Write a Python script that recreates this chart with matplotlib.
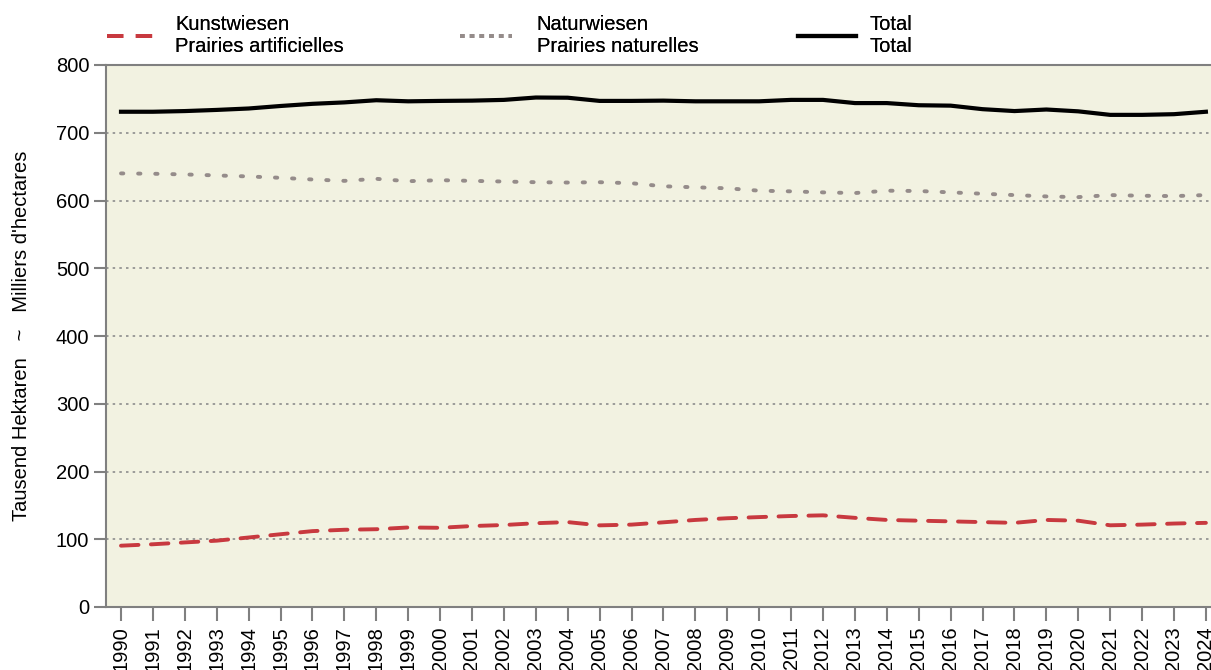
import matplotlib.pyplot as plt
from matplotlib.lines import Line2D

plt.rcParams['font.family'] = ['Liberation Sans', 'DejaVu Sans']

# Jahre / années
jahre = list(range(1990, 2025))

# Kunstwiesen (Tausend ha)
kunstwiesen = [90.5, 92.6, 95.3, 97.9, 102.6, 107.4, 112.0, 114.0, 114.8, 117.4,
               116.9, 119.5, 121.0, 123.7, 125.3, 120.5, 121.6, 125.0, 128.5, 131.0,
               132.7, 134.3, 135.3, 131.6, 128.5, 127.4, 126.4, 125.3, 124.2, 128.5,
               127.4, 120.6, 121.6, 123.2, 124.2]

# Naturwiesen (Tausend ha)
naturwiesen = [640.0, 639.5, 638.5, 637.0, 635.5, 633.5, 631.0, 629.0, 632.0, 628.5,
               630.0, 629.0, 628.0, 627.0, 626.5, 627.0, 625.5, 621.0, 619.5, 618.0,
               614.5, 613.5, 612.0, 611.0, 614.5, 614.0, 612.0, 610.0, 608.0, 606.0,
               605.0, 608.0, 607.0, 606.5, 608.0]

# Total (Tausend ha)
total = [731.0, 731.0, 732.0, 733.7, 735.8, 739.5, 742.7, 744.8, 748.0, 746.4,
         747.0, 747.4, 748.5, 752.0, 751.7, 747.0, 747.0, 747.4, 746.4, 746.4,
         746.4, 748.5, 748.5, 743.8, 743.8, 740.6, 740.0, 734.8, 732.0, 734.3,
         731.6, 726.4, 726.4, 727.4, 731.0]

labels = ['Kunstwiesen\nPrairies artificielles',
          'Naturwiesen\nPrairies naturelles',
          'Total\nTotal']

fs = 14.5
rot = '#C8393F'
grau = '#958C8A'

fig = plt.figure(figsize=(12.11, 6.70), dpi=100)
ax = fig.add_axes([106 / 1211, 1 - 607 / 670, 1105 / 1211, 542 / 670])
ax.set_facecolor('#F2F2E1')

ax.plot(jahre, kunstwiesen, color=rot, lw=2.8, dashes=(4.5, 3.2),
        dash_capstyle='round')
ax.plot(jahre, naturwiesen, color=grau, lw=2.8, dashes=(0.6, 3.8),
        dash_capstyle='round')
ax.plot(jahre, total, color='black', lw=3.0)

ax.set_xlim(1989.53, 2024.16)
ax.set_ylim(0, 800)
ax.set_yticks(range(0, 801, 100))
ax.set_xticks(jahre)
ax.set_xticklabels([str(j) for j in jahre], rotation=90)

for y in range(100, 800, 100):
    ax.axhline(y, color='#8C8C8C', lw=1.2, ls=(0, (1.5, 2.5)), zorder=0.5)

for s in ['left', 'bottom', 'top']:
    ax.spines[s].set_color('#808080')
    ax.spines[s].set_linewidth(1.5)
ax.spines['right'].set_visible(False)

ax.tick_params(axis='y', length=9, width=1.5, color='#808080', labelsize=fs, pad=3)
ax.tick_params(axis='x', length=10, width=1.5, color='#808080', labelsize=fs, pad=4)

ax.set_ylabel("Tausend Hektaren   ~   Milliers d'hectares", fontsize=fs, labelpad=18)

# Legende: drei Einträge, einzeln platziert
handles = [Line2D([], [], color=rot, lw=2.8, dashes=(4.2, 3.2)),
           Line2D([], [], color=grau, lw=2.8, dashes=(1.2, 1.3)),
           Line2D([], [], color='black', lw=3.0)]
starts = [107, 460, 798]
lengths = [2.3, 2.6, 2.9]
pads = [1.1, 1.2, 0.65]
for h, lab, x0, hl, tp in zip(handles, labels, starts, lengths, pads):
    leg = fig.legend([h], [lab], loc='upper left',
                     bbox_to_anchor=(x0 / 1211, 1 - 15 / 670),
                     frameon=False, fontsize=fs, handlelength=hl, handletextpad=tp,
                     borderpad=0, borderaxespad=0)
    fig.add_artist(leg)

fig.savefig('out.png', dpi=100)
